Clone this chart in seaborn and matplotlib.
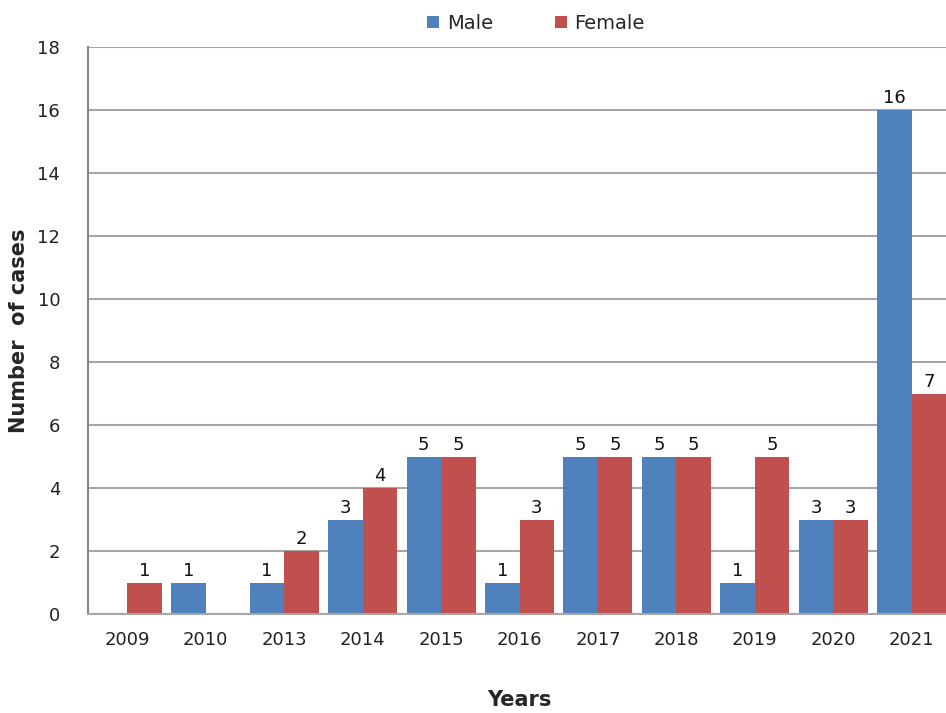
import numpy as np
import pandas as pd
import matplotlib
matplotlib.use("Agg")
import matplotlib.pyplot as plt
import seaborn as sns

years = ["2009", "2010", "2013", "2014", "2015", "2016", "2017", "2018", "2019", "2020", "2021"]
male = [0, 1, 1, 3, 5, 1, 5, 5, 1, 3, 16]
female = [1, 0, 2, 4, 5, 3, 5, 5, 5, 3, 7]
series = ["Male", "Female"]
colors = ["#4F81BD", "#C0504D"]
yticks = [0, 2, 4, 6, 8, 10, 12, 14, 16, 18]

df = pd.DataFrame({
    "Year": years * 2,
    "Sex": ["Male"] * len(years) + ["Female"] * len(years),
    "Cases": male + female,
})

sns.set_style("white")
plt.rcParams["font.family"] = ["DejaVu Sans"]

fig = plt.figure(figsize=(9.46, 7.13), dpi=100)
ax = fig.add_axes([88 / 946, 1 - 614 / 713, (951 - 88) / 946, (614 - 47) / 713])

sns.barplot(data=df, x="Year", y="Cases", hue="Sex", order=years, hue_order=series,
            palette=colors, width=0.88, saturation=1, ax=ax, legend=True, linewidth=0)

for cont in ax.containers:
    labels = [f"{int(b.get_height())}" if b.get_height() > 0 else "" for b in cont]
    ax.bar_label(cont, labels=labels, padding=2, fontsize=13, color="#111111")

ax.set_ylim(0, 18)
ax.set_xlim(-0.5, len(years) - 0.5)
ax.set_yticks(yticks)
ax.set_yticklabels([str(v) for v in yticks], fontsize=13, color="#222222")
ax.tick_params(axis="y", length=4, width=1, color="#888888", direction="out", pad=16)
ax.set_xticks(range(len(years)))
ax.set_xticklabels(years, fontsize=13, color="#222222")
ax.tick_params(axis="x", which="major", length=0, pad=12)
ax.set_xticks(np.arange(-0.5, len(years), 1), minor=True)
ax.tick_params(axis="x", which="minor", length=5, width=1, color="#888888", direction="out")

ax.yaxis.grid(True, color="#a6a6a6", linewidth=1.5)
ax.set_axisbelow(True)
for s in ["top", "right"]:
    ax.spines[s].set_visible(False)
ax.spines["left"].set_color("#888888")
ax.spines["left"].set_linewidth(1.5)
ax.spines["bottom"].set_color("#a6a6a6")
ax.spines["bottom"].set_linewidth(1.5)

ax.set_ylabel("Number  of cases", fontsize=15, fontweight="bold", labelpad=6)
ax.set_xlabel("Years", fontsize=15, fontweight="bold", labelpad=30)

ax.legend(loc="upper center", bbox_to_anchor=(536 / 946, 1.0), bbox_transform=fig.transFigure,
          ncol=2, frameon=False, fontsize=14, handlelength=0.6, handleheight=0.6,
          columnspacing=3.2, handletextpad=0.4, borderaxespad=0.3)

fig.savefig("out.png", dpi=100)
